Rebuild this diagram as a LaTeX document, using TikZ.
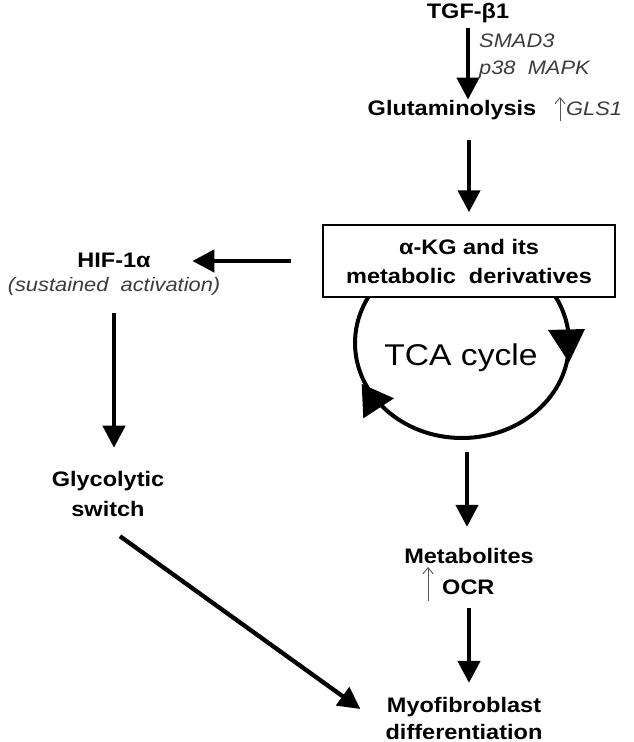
\documentclass[tikz,border=0pt]{standalone}
\usepackage{fontspec}
\setmainfont{Liberation Sans}[FakeStretch=1.12]
\usetikzlibrary{arrows.meta}
\definecolor{dgray}{HTML}{3C3C3C}
\definecolor{mgray}{HTML}{555555}
\begin{document}
\begin{tikzpicture}[x=1pt,y=-1pt,
  lbl/.style={font=\fontsize{21}{29}\selectfont\bfseries, inner sep=0pt, align=center},
  itl/.style={font=\fontsize{19.5}{26}\selectfont\itshape, text=dgray, inner sep=0pt},
  arr/.style={line width=4.3pt, -{Triangle[width=22pt,length=22pt]}},
  thinup/.style={draw=mgray, line width=0.9pt, -{Straight Barb[length=6pt,width=10pt]}},
  cyclearc/.style={line width=4pt},
  headtri/.style={fill=black, draw=none},
  kgbox/.style={draw, line width=1.5pt, fill=white, minimum width=292pt, minimum height=72pt, inner sep=0pt,
    font=\fontsize{21}{29}\selectfont\bfseries, align=center}]
\useasboundingbox (0,0) rectangle (633,742);

% TCA cycle ellipse (drawn before the box)
\draw[cyclearc] (462,343) ellipse [x radius=107, y radius=95];
\coordinate (tcab) at (467,438);
\fill[headtri] (548,330) -- (585,329) -- (569,362.5) -- cycle;
\fill[headtri] (394,398.3) -- (363.3,418.3) -- (361.7,384) -- cycle;
\node[font=\fontsize{30}{30}\selectfont, inner sep=0pt, anchor=base] (tca) at (461,365) {TCA cycle};

% nodes
\node[lbl, anchor=base] (tgf) at (468,18) {TGF-β1};
\node[itl, anchor=base west] (smad) at (479,47) {SMAD3};
\node[itl, anchor=base west] (p38) at (479,74) {p38\ \ MAPK};
\node[lbl, anchor=base] (glut) at (452,115) {Glutaminolysis};
\node[itl, anchor=base west] (gls) at (566,115) {GLS1};
\coordinate (g0) at (560,121);
\coordinate (g1) at (560,97);
\node[kgbox] (box) at (469,261) {α-KG and its\\metabolic\ \ derivatives};
\node[lbl, anchor=base] (hif) at (114,267) {HIF-1α};
\node[itl, anchor=base] (sust) at (114,291) {(sustained\ \ activation)};
\node[lbl, font=\fontsize{21}{30}\selectfont\bfseries] (glyc) at (108,494.3) {Glycolytic\\switch};
\node[lbl, anchor=base] (metab) at (469,563) {Metabolites};
\node[lbl, anchor=base west] (ocr) at (442,594) {OCR};
\coordinate (o0) at (428,601);
\coordinate (o1) at (428,567);
\node[lbl, font=\fontsize{21}{27}\selectfont\bfseries] (myo) at (464,718) {Myofibroblast\\differentiation};

% connectors
\draw[arr, shorten <=5pt] (tgf.south) -- (tgf.south |- glut.north);
\draw[arr, shorten <=20.6pt, shorten >=12pt] (box.north |- glut.south) -- (box.north);
\draw[arr, shorten <=31pt, shorten >=41.5pt] (box.west) -- (box.west -| hif.east);
\draw[arr, shorten <=18pt, shorten >=23.7pt] (sust.south) -- (sust.south |- glyc.north);
\draw[arr] ([xshift=12pt,yshift=-19pt]glyc.south) -- ([xshift=-25pt,yshift=9pt]myo.west);
\draw[arr, shorten <=14pt, shorten >=20.7pt] (tcab) -- (tcab |- metab.north);
\draw[arr, shorten <=14pt, shorten >=13.7pt] (metab.center |- ocr.south) -- (metab.center |- myo.north);
\draw[thinup] (g0) -- (g1);
\draw[thinup] (o0) -- (o1);
\end{tikzpicture}
\end{document}
